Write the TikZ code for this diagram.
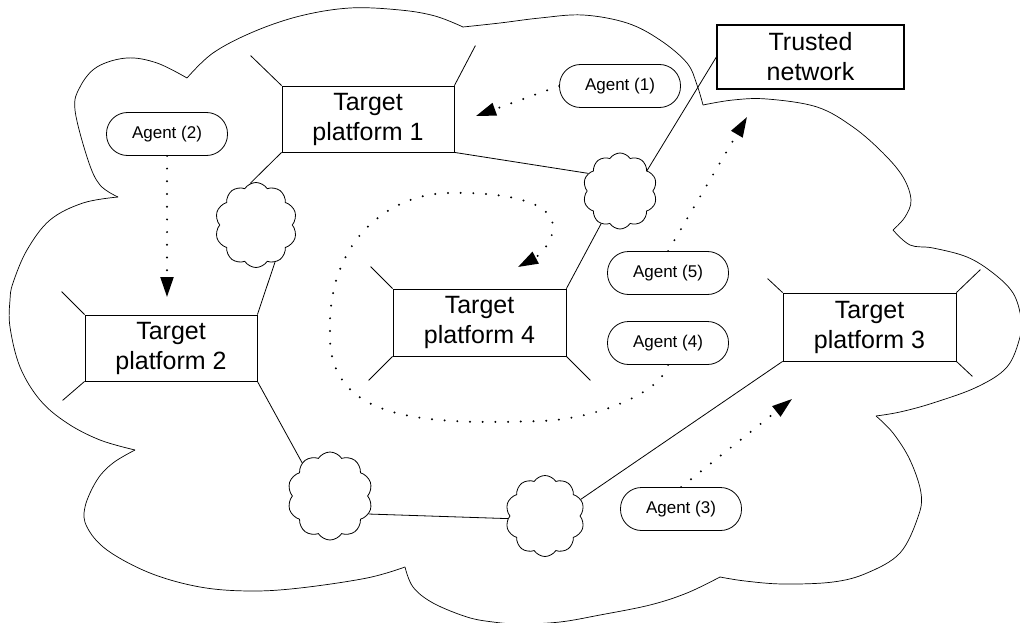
\documentclass[tikz,border=0pt]{standalone}
\usepackage{fontspec}
\setmainfont{Liberation Sans}
\usetikzlibrary{shapes.symbols,arrows.meta}
\begin{document}
\begin{tikzpicture}[x=1pt,y=-1pt,line width=0.8pt,
  platform/.style={draw, minimum width=172pt, minimum height=66pt, inner sep=0pt,
    align=center, font=\fontsize{25}{30}\selectfont},
  trustbox/.style={draw, line width=1.3pt, minimum width=187pt, minimum height=64pt,
    inner sep=0pt, align=center, font=\fontsize{25}{30}\selectfont},
  agent/.style={draw, rounded corners=21pt, minimum width=121pt, minimum height=43pt,
    inner sep=0pt, font=\fontsize{17}{20}\selectfont},
  netcloud/.style={draw, cloud, cloud puffs=10, cloud puff arc=115, aspect=1, inner sep=0pt},
  move/.style={line width=2.2pt, line cap=round, dash pattern=on 0pt off 12.7pt,
    -{Triangle[length=20pt,width=13pt,line cap=butt]}},
  lobe/.style={line width=0.7pt}
]
\useasboundingbox (0,0) rectangle (1020,623);

% outer boundary of the internet, lobe by lobe
\draw[lobe] plot[smooth, tension=0.6] coordinates {(118,197) (100,185) (88,160) (75,110) (80,87) (97,67) (127,58) (157,63) (187,78)};
\draw[lobe] plot[smooth, tension=0.6] coordinates {(187,78) (213,53) (253,32) (300,16) (350,8) (400,10) (435,16) (463,27)};
\draw[lobe] plot[smooth, tension=0.6] coordinates {(463,27) (500,23) (540,18) (583,15) (627,23) (660,40) (687,63) (697,85) (703,105)};
\draw[lobe] plot[smooth, tension=0.6] coordinates {(703,105) (733,100) (767,99) (817,107) (853,127) (883,153) (903,177) (911,200) (905,217) (893,230)};
\draw[lobe] plot[smooth, tension=0.6] coordinates {(893,230) (910,245) (933,248) (967,257) (993,273) (1013,293) (1021,318) (1020,337) (1007,367) (977,387) (933,403) (900,412) (876,416)};
\draw[lobe] plot[smooth, tension=0.6] coordinates {(876,416) (893,433) (910,460) (921,493) (918,517) (900,553) (867,573) (833,582) (783,584) (745,581) (720,577)};
\draw[lobe] plot[smooth, tension=0.6] coordinates {(720,577) (687,593) (650,605) (600,615) (560,622) (520,624) (493,622) (467,617) (433,603) (413,587) (405,567)};
\draw[lobe] plot[smooth, tension=0.6] coordinates {(405,567) (367,578) (300,588) (250,591) (200,587) (150,573) (107,550) (87,527) (85,507) (97,480) (113,463) (135,450)};
\draw[lobe] plot[smooth, tension=0.6] coordinates {(135,450) (100,440) (67,423) (40,400) (20,367) (10,327) (10,300) (13,283) (27,250) (50,220) (83,203) (118,197)};

% platforms
\node[platform] (tp1) at (368,119) {Target\\platform 1};
\node[platform] (tp2) at (171,348) {Target\\platform 2};
\node[platform, minimum width=173pt, minimum height=67pt] (tp4) at (479.5,322.5) {Target\\platform 4};
\node[platform, minimum width=173pt, minimum height=68pt] (tp3) at (869.5,327) {Target\\platform 3};
\node[trustbox] (trust) at (810.5,57) {Trusted\\network};

% network clouds
\node[netcloud, minimum width=82pt, minimum height=85pt] (cA) at (256,225) {};
\node[netcloud, minimum width=74pt, minimum height=76pt] (cB) at (620,191) {};
\node[netcloud, minimum width=85pt, minimum height=88pt] (cC) at (330,496) {};
\node[netcloud, minimum width=79pt, minimum height=81pt] (cD) at (545,516) {};

% agents
\node[agent] (ag1) at (620,86) {Agent (1)};
\node[agent] (ag2) at (167,134) {Agent (2)};
\node[agent] (ag3) at (681,509) {Agent (3)};
\node[agent] (ag4) at (668,343) {Agent (4)};
\node[agent] (ag5) at (668,273) {Agent (5)};

% links
\draw (tp1.south west) -- (cA.98);
\draw (cA.-63) -- (tp2.north east);
\draw (tp1.south east) -- (cB.151);
\draw (cB.37) -- (trust.west);
\draw (cB.-120) -- (tp4.north east);
\draw (tp2.south east) -- (cC.130);
\draw (cC.-25) -- (cD.184);
\draw (cD.25) -- (tp3.south west);

% interface stubs on the platforms
\draw (tp1.north west) -- ++(-31,-30);
\draw (tp1.north east) -- ++(21,-40);
\draw (tp2.north west) -- ++(-23,-23);
\draw (tp2.south west) -- ++(-22,19);
\draw (tp4.north west) -- ++(-22,-22);
\draw (tp4.south west) -- ++(-24,24);
\draw (tp4.south east) -- ++(24,24);
\draw (tp3.north west) -- ++(-15,-14);
\draw (tp3.north east) -- ++(24,-23);
\draw (tp3.south east) -- ++(16,15);

% agent moves
\coordinate (t1) at (476,116);
\coordinate (t2) at (167,297);
\coordinate (t3) at (792,399);
\coordinate (t4) at (518,267);
\coordinate (t5) at (747,117);
\draw[move] (ag1.west) -- (t1);
\draw[move] (ag2.south) -- (t2);
\draw[move] (ag3.north) -- (t3);
\draw[move] (ag5.north) -- (t5);
\draw[move] (ag4.south) .. controls (660,395) and (590,420) .. (540,421)
  .. controls (420,425) and (326,420) .. (330,330)
  .. controls (328,240) and (390,193) .. (450,193)
  .. controls (500,192) and (553,200) .. (553,227)
  .. controls (553,245) and (535,258) .. (t4);
\end{tikzpicture}
\end{document}
